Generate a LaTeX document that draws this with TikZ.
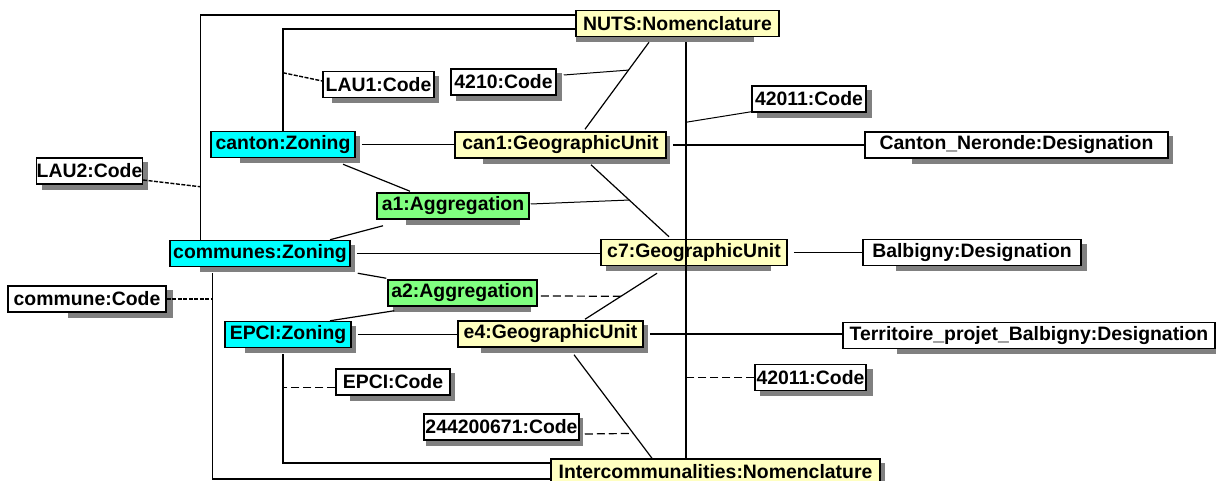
\documentclass[tikz,border=0pt]{standalone}
\usepackage{fontspec}
\setmainfont{Liberation Sans}
\usepackage{xcolor}
\usepackage{tikz}
\usetikzlibrary{calc,backgrounds}

\definecolor{zonecyan}{RGB}{0,255,255}
\definecolor{unityellow}{RGB}{255,255,192}
\definecolor{aggrgreen}{RGB}{128,255,128}
\definecolor{shadowgray}{RGB}{128,128,128}

\begin{document}
\begin{tikzpicture}[x=0.5pt,y=-0.5pt,font=\fontsize{9.7}{11}\selectfont\bfseries,
  obj/.style={draw,line width=0.75pt,inner sep=0pt,minimum height=13pt,minimum width=#1*0.5pt},
  zone/.style={obj=#1,fill=zonecyan},
  unit/.style={obj=#1,fill=unityellow},
  aggr/.style={obj=#1,fill=aggrgreen},
  code/.style={obj=#1,fill=white},
  link/.style={line width=0.6pt},
  thinlink/.style={line width=0.5pt},
  reflink/.style={line width=0.6pt,dash pattern=on 4pt off 2pt},
  denselink/.style={line width=0.7pt,dash pattern=on 2pt off 0.75pt}]
  \useasboundingbox (0,0) rectangle (1216,481);

  \node[unit=203] (nuts) at (677.5,23.5) {NUTS:Nomenclature};
  \node[code=111] (lauone) at (378.5,84.5) {LAU1:Code};
  \node[code=105] (nutscode) at (503.5,82) {4210:Code};
  \node[code=114] (cantoncode) at (809,99) {42011:Code};
  \node[zone=144] (canton) at (283,144.5) {canton:Zoning};
  \node[unit=211] (canone) at (560.5,145) {can1:GeographicUnit};
  \node[code=303] (neronde) at (1016.5,145) {Canton\_Neronde:Designation};
  \node[code=105] (lautwo) at (89.5,171) {LAU2:Code};
  \node[aggr=152] (aone) at (453,206) {a1:Aggregation};
  \node[zone=180] (communes) at (260,253.5) {communes:Zoning};
  \node[unit=186] (cseven) at (694,252.5) {c7:GeographicUnit};
  \node[code=218] (balbigny) at (972,252.5) {Balbigny:Designation};
  \node[code=158] (communecode) at (87,299) {commune:Code};
  \node[aggr=149] (atwo) at (462.5,293) {a2:Aggregation};
  \node[zone=126] (epci) at (288,334.5) {EPCI:Zoning};
  \node[unit=185] (efour) at (550.5,334) {e4:GeographicUnit};
  \node[code=372] (territoire) at (1029,335.5) {Territoire\_projet\_Balbigny:Designation};
  \node[code=114] (epcicode) at (393,382) {EPCI:Code};
  \node[code=111] (ecode) at (810.5,377.5) {42011:Code};
  \node[code=155] (siren) at (501.5,427) {244200671:Code};
  \node[unit=329] (inter) at (715.5,472) {Intercommunalities:Nomenclature};

  \begin{scope}[on background layer]
    \foreach \n/\l/\r in {nuts/1/-26,lauone/10/4,nutscode/6/5,cantoncode/6/5,canton/30/4,
      canone/29/3,neronde/48/4,lautwo/6/5,aone/30/-10,communes/31/4,cseven/6/-17,
      balbigny/34/5,communecode/61/6,atwo/6/-7,epci/21/4,efour/24/4,territoire/55/4,
      epcicode/15/4,ecode/6/6,siren/3/3,inter/6/4}
      \fill[shadowgray] ($(\n.north west)+(\l,5)$) rectangle ($(\n.south east)+(\r,5)$);
  \end{scope}

  \coordinate (nutsleg) at ($(communes.north west)+(31,0)$);
  \coordinate (interleg) at ($(communes.south west)+(43,6)$);
  \coordinate (epcileg) at ($(epci.south)+(-5,6)$);
  \coordinate (axis) at ($(nuts.south)+(8.5,5)$);
  \draw[link] (nutsleg) |- ($(nuts.west)+(0,-8.5)$);
  \draw[link] (canton.north) |- ($(nuts.west)+(0,5.5)$);
  \draw[link] (interleg) |- ($(inter.west)+(0,7)$);
  \draw[link] (epcileg) |- ($(inter.west)+(0,-9)$);
  \draw[link] (axis) -- (axis |- inter.north);

  \draw[link] ([xshift=3pt]canton.east) -- (canton.east -| canone.west);
  \draw[link] ([xshift=3pt]communes.east) -- (communes.east -| cseven.west);
  \draw[link] ([xshift=3pt]epci.east) -- (epci.east -| efour.west);
  \draw[link] ([xshift=3pt]canone.east) -- (canone.east -| neronde.west);
  \draw[link] ([xshift=3pt]cseven.east) -- (cseven.east -| balbigny.west);
  \draw[link] ([xshift=3pt]efour.east) -- (efour.east -| territoire.west);

  \draw[link] ($(nuts.south)+(-28.5,5)$) -- coordinate[pos=0.32] (nutsmid) ($(canone.north)+(24.5,-2)$);
  \draw[link] ($(canone.south)+(30.5,6)$) -- coordinate[pos=0.49] (canmid) ($(cseven.north)+(-25,-2)$);
  \draw[link] ($(cseven.south)+(-37,7)$) -- coordinate[pos=0.5] (sevenmid) ($(efour.north)+(34.5,-1)$);
  \draw[link] ($(efour.south)+(23.5,7)$) -- coordinate[pos=0.76] (fourmid) ($(inter.north)+(-63.5,0)$);
  \draw[link] ($(canton.south)+(60,6)$) -- ($(aone.north)+(-43,-1)$);
  \draw[link] ($(aone.south)+(-70,6)$) -- ($(communes.north)+(70,0)$);
  \draw[link] ($(communes.south east)+(7,6)$) -- ($(atwo.north west)+(-1,-1)$);
  \draw[link] ($(atwo.south west)+(7,4)$) -- ($(epci.north)+(42,0)$);

  \draw[thinlink] ($(nutscode.east)+(7,-7)$) -- (nutsmid);
  \draw[thinlink] ($(aone.east)+(1,-2)$) -- (canmid);
  \draw[reflink] ($(atwo.east)+(3,3)$) -- (sevenmid);
  \draw[reflink] ($(siren.east)+(5,7)$) -- (fourmid);
  \draw[thinlink] ($(cantoncode.south west)+(0,-1)$) -- ($(axis)+(0,80)$);
  \draw[reflink] (ecode.west) -- (ecode.west -| axis);
  \draw[denselink] ($(canton.north)+(0,-58)$) -- ($(lauone.west)+(0,-3.5)$);
  \draw[denselink] ($(lautwo.east)+(0,9)$) -- ($(nutsleg)+(0,-53)$);
  \draw[denselink] (communecode.east) -- (communecode.east -| interleg);
  \coordinate (epcitick) at ($(epcicode.west)+(0,5.5)$);
  \draw[reflink] (epcitick) -- (epcitick -| epcileg);
\end{tikzpicture}
\end{document}
